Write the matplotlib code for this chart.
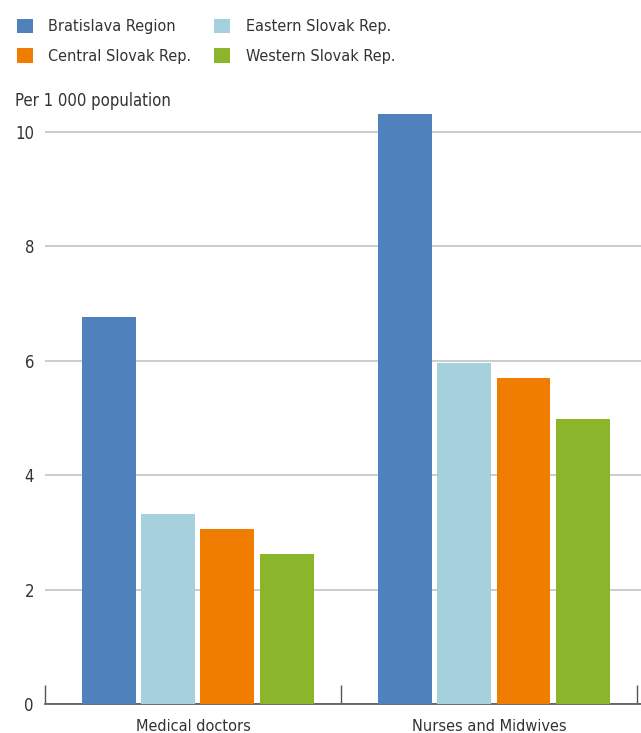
import numpy as np
import matplotlib
matplotlib.use("Agg")
import matplotlib.pyplot as plt

categories = ["Medical doctors", "Nurses and Midwives"]
regions = ["Bratislava Region", "Eastern Slovak Rep.", "Central Slovak Rep.", "Western Slovak Rep."]
bratislava = [6.77, 10.31]
eastern = [3.32, 5.96]
central = [3.06, 5.70]
western = [2.62, 4.98]
colors = ["#4f81bd", "#a4d1dd", "#f07d00", "#8bb52b"]

plt.rcParams["font.family"] = ["DejaVu Sans"]
plt.rcParams["font.stretch"] = "condensed"
txt = "#333333"

fig = plt.figure(figsize=(6.41, 7.33), dpi=100)
ax = fig.add_axes([45 / 641, 29 / 733, 596 / 641, 600.6 / 733])

x = np.arange(len(categories))
width = 0.182
series = [bratislava, eastern, central, western]
bars = []
for i, (vals, c) in enumerate(zip(series, colors)):
    b = ax.bar(x + (i - 1.5) * 0.2 + 0.016, vals, width, color=c, label=regions[i], zorder=3)
    bars.append(b)

ax.set_xlim(-0.5, 1.513)
ax.set_ylim(0, 10.5)
ax.set_yticks([0, 2, 4, 6, 8, 10])
ax.yaxis.grid(True, color="#c8c8c8", linewidth=1.3, zorder=0)
ax.tick_params(axis="y", length=0, pad=8, labelsize=12, labelcolor=txt)
ax.set_xticks(x)
ax.set_xticklabels(categories)
ax.tick_params(axis="x", length=0, pad=11, labelsize=11.7, labelcolor=txt)
ax.set_xticks([-0.5, 0.5, 1.5], minor=True)
ax.tick_params(axis="x", which="minor", direction="in", length=14, width=1, color="#555555")
for s in ["top", "right", "left"]:
    ax.spines[s].set_visible(False)
ax.spines["bottom"].set_color("#555555")
ax.spines["bottom"].set_linewidth(1.2)

fig.text(15 / 641, 1 - 101 / 733, "Per 1 000 population", fontsize=12, color=txt, va="center", ha="left")

# legend order: column-major with 2 columns
order = [0, 2, 1, 3]
fig.legend([bars[k] for k in order], [regions[k] for k in order],
           loc="upper left", bbox_to_anchor=(2 / 641, 1 - 4 / 733), ncol=2, frameon=False,
           handlelength=1.0, handleheight=1.0, handletextpad=0.95, columnspacing=1.45,
           labelspacing=0.88, fontsize=11.6, labelcolor=txt)

fig.savefig("out.png", dpi=100)
